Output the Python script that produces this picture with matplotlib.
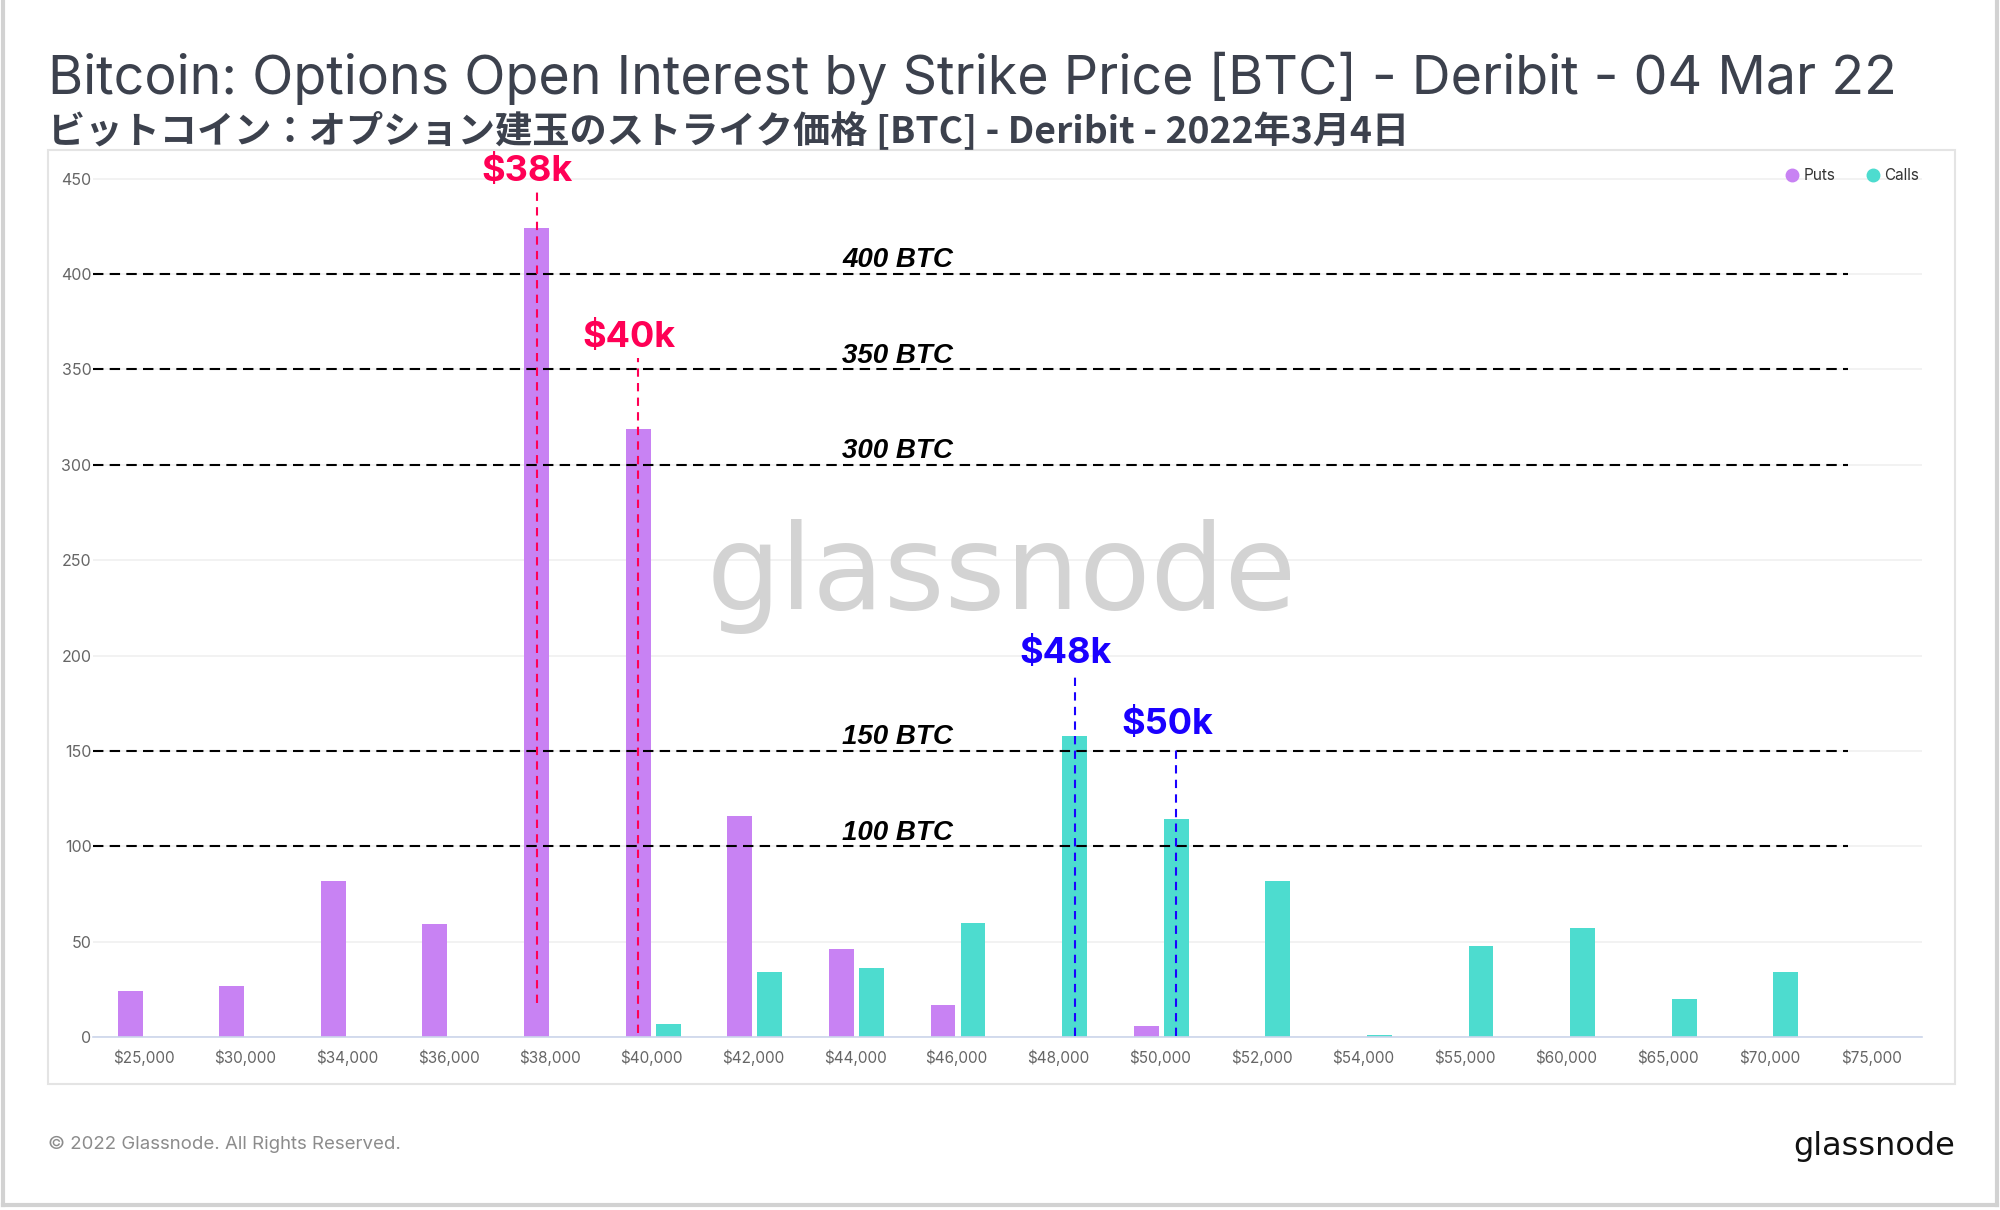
import matplotlib
matplotlib.use('Agg')
import matplotlib.pyplot as plt
import numpy as np
from matplotlib.lines import Line2D
from matplotlib.patches import Rectangle

# データ
strikes = ['$25,000', '$30,000', '$34,000', '$36,000', '$38,000', '$40,000', '$42,000',
           '$44,000', '$46,000', '$48,000', '$50,000', '$52,000', '$54,000', '$55,000',
           '$60,000', '$65,000', '$70,000', '$75,000']
puts = [24, 27, 82, 59, 424, 319, 116, 46, 17, 0, 6, 0, 0, 0, 0, 0, 0, 0]
calls = [0, 0, 0, 0, 0, 7, 34, 36, 60, 158, 114.5, 82, 1.2, 47.5, 57, 20, 34, 0]

btc_levels = [400, 350, 300, 150, 100]
# (strike index, series, line bottom, line top, label)
marks = [
    (4, 'puts', 18, 443, '$38k'),
    (5, 'puts', 2, 356, '$40k'),
    (9, 'calls', 0.5, 190, '$48k'),
    (10, 'calls', 0.5, 153, '$50k'),
]

put_color = '#c882f3'
call_color = '#4ddccf'
red = '#ff0055'
blue = '#1a00ff'
text_dark = '#3c414d'

W, H = 2000, 1210


def fx(px):
    return px / W


def fy(py):
    return 1 - py / H


fig = plt.figure(figsize=(20, 12.1), dpi=100)
fig.patch.set_facecolor('white')

ax = fig.add_axes([fx(93), fy(1037), fx(1922) - fx(93), fy(160) - fy(1037)])
ax.set_facecolor('none')

x = np.arange(len(strikes))
offsets = {'puts': -0.135, 'calls': 0.16}
ax.bar(x + offsets['puts'], puts, width=0.245, color=put_color, zorder=2)
ax.bar(x + offsets['calls'], calls, width=0.245, color=call_color, zorder=2)

ax.set_xlim(-0.5, len(strikes) - 0.5)
ax.set_ylim(0, 459.8)
ax.set_xticks(x)
ax.set_xticklabels(strikes)
ax.set_yticks(np.arange(0, 451, 50))
ax.tick_params(axis='x', length=0, pad=9, labelsize=11, labelcolor='#666666')
ax.tick_params(axis='y', length=0, pad=1, labelsize=11.5, labelcolor='#666666')
for lab in ax.get_xticklabels() + ax.get_yticklabels():
    lab.set_family(['Inter', 'DejaVu Sans'])
ax.grid(axis='y', color='#f0f0f0', lw=1.2, zorder=0)
ax.set_axisbelow(True)
for s in ['top', 'right', 'left']:
    ax.spines[s].set_visible(False)
ax.spines['bottom'].set_color('#ccd6eb')
ax.spines['bottom'].set_linewidth(1.2)

# BTC 水平線
for lvl in btc_levels:
    ax.hlines(lvl, -0.5, 16.77, colors='black', linestyles=(0, (5, 3)), lw=1.5, zorder=3)
    ax.text(7.42, lvl + 0.3, f'{lvl} BTC', ha='center', va='bottom', fontsize=20,
            fontweight='bold', style='italic', family='Liberation Sans', color='black', zorder=4)

# 注目ストライク
for idx, series, y0, y1, label in marks:
    col = red if series == 'puts' else blue
    xp = idx + offsets[series]
    ax.vlines(xp, y0, y1, colors=col, linestyles=(0, (4, 3)), lw=1.5, zorder=4)
    ax.text(xp - 0.09, y1 + 11, label, ha='center', va='center', fontsize=26,
            fontweight='bold', color=col, family=['Inter', 'DejaVu Sans'], clip_on=False, zorder=5)

# 凡例
handles = [Line2D([], [], marker='o', ls='', color=put_color, markersize=9),
           Line2D([], [], marker='o', ls='', color=call_color, markersize=9)]
leg = ax.legend(handles, ['Puts', 'Calls'], ncol=2, loc='upper right',
                bbox_to_anchor=(fx(1919), fy(168)), bbox_transform=fig.transFigure,
                frameon=False, fontsize=11, handletextpad=0.3, columnspacing=2.0,
                borderpad=0, borderaxespad=0, handlelength=0.9)
for t in leg.get_texts():
    t.set_color('#333333')
    t.set_family(['Inter', 'DejaVu Sans'])

# 枠
fig.patches.append(Rectangle((fx(48), fy(1084)), fx(1955) - fx(48), fy(150) - fy(1084),
                             transform=fig.transFigure, fill=False, ec='#e4e4e4', lw=1.5))
for xs, ys in [([fx(3), fx(3)], [fy(0), fy(1205)]),
               ([fx(3), fx(1997)], [fy(1205), fy(1205)]),
               ([fx(1997), fx(1997)], [fy(0), fy(1205)])]:
    fig.lines.append(Line2D(xs, ys, transform=fig.transFigure, color='#d2d2d2', lw=3))

# タイトル
fig.text(fx(48), fy(94), 'Bitcoin: Options Open Interest by Strike Price [BTC] - Deribit - 04 Mar 22',
         fontsize=38.7, color=text_dark, va='baseline', ha='left', family=['Inter', 'DejaVu Sans'])
fig.text(fx(48), fy(142), 'ビットコイン：オプション建玉のストライク価格 [BTC] - Deribit - 2022年3月4日',
         fontsize=26.8, color=text_dark, va='baseline', ha='left', fontweight='bold',
         family=['Noto Sans CJK JP', 'DejaVu Sans'])

# ウォーターマーク
fig.text(fx(1002), fy(577), 'glassnode', fontsize=84, color='#d3d3d3', ha='center', va='center',
         family=['DejaVu Sans'], zorder=1)

# フッター
fig.text(fx(48), fy(1144), '© 2022 Glassnode. All Rights Reserved.', fontsize=13.4, color='#8c8c8c',
         va='center', ha='left', family=['Inter', 'DejaVu Sans'])
fig.text(fx(1955), fy(1147), 'glassnode', fontsize=23, color='#111111', ha='right', va='center',
         family=['DejaVu Sans'])

fig.savefig('out.png', dpi=100)
